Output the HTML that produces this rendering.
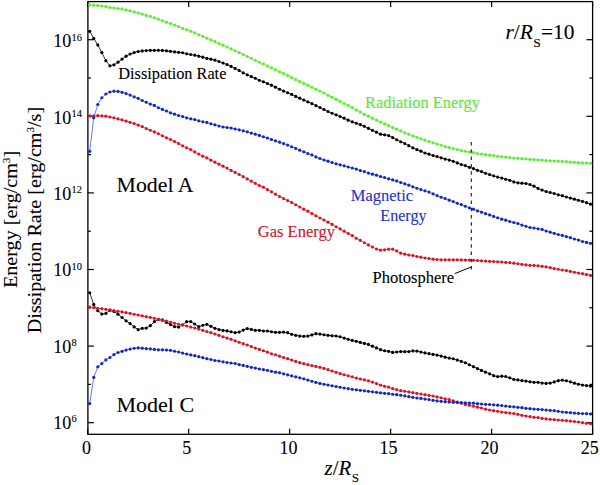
<!DOCTYPE html>
<html><head><meta charset="utf-8"><style>
html,body{margin:0;padding:0;background:#fff;}
svg{display:block;}
text{font-family:'Liberation Serif',serif;stroke:#000;stroke-width:0.1px;}
</style></head><body>
<svg width="600" height="485" viewBox="0 0 600 485">
<rect width="600" height="485" fill="#fff"/>
<rect x="87.9" y="1.6" width="504.7" height="432.7" fill="none" stroke="#000" stroke-width="1.3"/>
<line x1="87.7" y1="422.70" x2="93.9" y2="422.70" stroke="#000" stroke-width="1.2"/>
<line x1="592.6" y1="422.70" x2="586.4" y2="422.70" stroke="#000" stroke-width="1.2"/>
<line x1="87.7" y1="384.40" x2="90.9" y2="384.40" stroke="#000" stroke-width="1.2"/>
<line x1="592.6" y1="384.40" x2="589.4" y2="384.40" stroke="#000" stroke-width="1.2"/>
<line x1="87.7" y1="346.10" x2="93.9" y2="346.10" stroke="#000" stroke-width="1.2"/>
<line x1="592.6" y1="346.10" x2="586.4" y2="346.10" stroke="#000" stroke-width="1.2"/>
<line x1="87.7" y1="307.80" x2="90.9" y2="307.80" stroke="#000" stroke-width="1.2"/>
<line x1="592.6" y1="307.80" x2="589.4" y2="307.80" stroke="#000" stroke-width="1.2"/>
<line x1="87.7" y1="269.50" x2="93.9" y2="269.50" stroke="#000" stroke-width="1.2"/>
<line x1="592.6" y1="269.50" x2="586.4" y2="269.50" stroke="#000" stroke-width="1.2"/>
<line x1="87.7" y1="231.20" x2="90.9" y2="231.20" stroke="#000" stroke-width="1.2"/>
<line x1="592.6" y1="231.20" x2="589.4" y2="231.20" stroke="#000" stroke-width="1.2"/>
<line x1="87.7" y1="192.90" x2="93.9" y2="192.90" stroke="#000" stroke-width="1.2"/>
<line x1="592.6" y1="192.90" x2="586.4" y2="192.90" stroke="#000" stroke-width="1.2"/>
<line x1="87.7" y1="154.60" x2="90.9" y2="154.60" stroke="#000" stroke-width="1.2"/>
<line x1="592.6" y1="154.60" x2="589.4" y2="154.60" stroke="#000" stroke-width="1.2"/>
<line x1="87.7" y1="116.30" x2="93.9" y2="116.30" stroke="#000" stroke-width="1.2"/>
<line x1="592.6" y1="116.30" x2="586.4" y2="116.30" stroke="#000" stroke-width="1.2"/>
<line x1="87.7" y1="78.00" x2="90.9" y2="78.00" stroke="#000" stroke-width="1.2"/>
<line x1="592.6" y1="78.00" x2="589.4" y2="78.00" stroke="#000" stroke-width="1.2"/>
<line x1="87.7" y1="39.70" x2="93.9" y2="39.70" stroke="#000" stroke-width="1.2"/>
<line x1="592.6" y1="39.70" x2="586.4" y2="39.70" stroke="#000" stroke-width="1.2"/>
<line x1="87.70" y1="434.3" x2="87.70" y2="428.8" stroke="#000" stroke-width="1.2"/>
<line x1="87.70" y1="1.4" x2="87.70" y2="6.9" stroke="#000" stroke-width="1.2"/>
<line x1="188.68" y1="434.3" x2="188.68" y2="428.8" stroke="#000" stroke-width="1.2"/>
<line x1="188.68" y1="1.4" x2="188.68" y2="6.9" stroke="#000" stroke-width="1.2"/>
<line x1="289.66" y1="434.3" x2="289.66" y2="428.8" stroke="#000" stroke-width="1.2"/>
<line x1="289.66" y1="1.4" x2="289.66" y2="6.9" stroke="#000" stroke-width="1.2"/>
<line x1="390.64" y1="434.3" x2="390.64" y2="428.8" stroke="#000" stroke-width="1.2"/>
<line x1="390.64" y1="1.4" x2="390.64" y2="6.9" stroke="#000" stroke-width="1.2"/>
<line x1="491.62" y1="434.3" x2="491.62" y2="428.8" stroke="#000" stroke-width="1.2"/>
<line x1="491.62" y1="1.4" x2="491.62" y2="6.9" stroke="#000" stroke-width="1.2"/>
<line x1="592.60" y1="434.3" x2="592.60" y2="428.8" stroke="#000" stroke-width="1.2"/>
<line x1="592.60" y1="1.4" x2="592.60" y2="6.9" stroke="#000" stroke-width="1.2"/>
<text x="71.3" y="429.00" font-size="18" text-anchor="end" >10</text>
<text x="71.5" y="422.25" font-size="10.4" >6</text>
<text x="71.3" y="352.64" font-size="18" text-anchor="end" >10</text>
<text x="71.5" y="345.97" font-size="10.4" >8</text>
<text x="71.3" y="276.28" font-size="18" text-anchor="end" >10</text>
<text x="71.5" y="269.69" font-size="10.4" >10</text>
<text x="71.3" y="199.92" font-size="18" text-anchor="end" >10</text>
<text x="71.5" y="193.41" font-size="10.4" >12</text>
<text x="71.3" y="123.56" font-size="18" text-anchor="end" >10</text>
<text x="71.5" y="117.13" font-size="10.4" >14</text>
<text x="71.3" y="47.20" font-size="18" text-anchor="end" >10</text>
<text x="71.5" y="40.85" font-size="10.4" >16</text>
<text x="86.60" y="453.5" font-size="18" text-anchor="middle" >0</text>
<text x="186.78" y="453.5" font-size="18" text-anchor="middle" >5</text>
<text x="288.41" y="453.5" font-size="18" text-anchor="middle" >10</text>
<text x="388.39" y="453.5" font-size="18" text-anchor="middle" >15</text>
<text x="489.52" y="453.5" font-size="18" text-anchor="middle" >20</text>
<text x="589.70" y="453.5" font-size="18" text-anchor="middle" >25</text>
<text x="118.3" y="79" font-size="16.3" fill="#000" style="stroke:#000" text-anchor="start" >Dissipation Rate</text>
<text x="365" y="107.5" font-size="16.4" fill="#5ee63a" style="stroke:#5ee63a" text-anchor="start" >Radiation Energy</text>
<text x="116.6" y="191.9" font-size="21.8" fill="#000" style="stroke:#000" text-anchor="start" >Model A</text>
<text x="116.5" y="411.5" font-size="22" fill="#000" style="stroke:#000" text-anchor="start" >Model C</text>
<text x="350.8" y="200.8" font-size="16.5" fill="#1f33c4" style="stroke:#1f33c4" text-anchor="start" >Magnetic</text>
<text x="380.3" y="220.8" font-size="16.1" fill="#1f33c4" style="stroke:#1f33c4" text-anchor="start" >Energy</text>
<text x="257.8" y="236.7" font-size="16.5" fill="#c4161f" style="stroke:#c4161f" text-anchor="start" >Gas Energy</text>
<text x="372.6" y="283.1" font-size="16.5" fill="#000" style="stroke:#000" text-anchor="start" >Photosphere</text>
<line x1="454.7" y1="273.6" x2="471.3" y2="267" stroke="#000" stroke-width="1"/>
<text x="505.5" y="38.7" font-size="21.4" ><tspan font-style="italic">r</tspan>/<tspan font-style="italic">R</tspan><tspan font-size="13.5" dy="8.5" dx="0.5">S</tspan><tspan dy="-8.5">=10</tspan></text>
<text x="324.6" y="474.8" font-size="20.8" ><tspan font-style="italic">z</tspan>/<tspan font-style="italic">R</tspan><tspan font-size="13" dy="7.3" dx="0.6">S</tspan></text>
<text transform="translate(16.6,288.0) rotate(-90) scale(1.0056,0.93)" font-size="20" >Energy [erg/cm<tspan font-size="11" dy="-7">3</tspan><tspan dy="7">]</tspan></text>
<text transform="translate(40.9,333.2) rotate(-90) scale(1.006,0.97)" font-size="20" >Dissipation Rate [erg/cm<tspan font-size="11" dy="-7">3</tspan><tspan dy="7">/s]</tspan></text>
<polyline points="89.72,5.00 93.76,5.20 97.80,5.51 101.84,5.99 105.88,6.58 109.92,7.49 113.95,7.99 117.99,8.49 122.03,8.97 126.07,9.97 130.11,10.78 134.15,11.91 138.19,12.92 142.23,14.12 146.27,15.43 150.31,16.45 154.35,17.75 158.39,19.16 162.43,20.77 166.46,22.19 170.50,23.50 174.54,25.02 178.58,26.53 182.62,28.43 186.66,29.75 190.70,31.26 194.74,32.97 198.78,34.79 202.82,36.31 206.86,38.13 210.90,39.96 214.93,41.47 218.97,43.49 223.01,45.21 227.05,47.02 231.09,48.95 235.13,50.86 239.17,52.53 243.21,54.50 247.25,56.52 251.29,58.24 255.33,60.26 259.37,62.27 263.41,63.89 267.44,65.92 271.48,67.79 275.52,69.81 279.56,71.83 283.60,73.55 287.64,75.57 291.68,77.59 295.72,79.61 299.76,81.62 303.80,83.33 307.84,85.22 311.88,87.24 315.91,89.25 319.95,90.98 323.99,93.00 328.03,95.32 332.07,97.23 336.11,99.26 340.15,101.28 344.19,103.49 348.23,105.51 352.27,107.54 356.31,110.07 360.35,112.08 364.39,114.29 368.42,116.16 372.46,118.18 376.50,120.20 380.54,122.02 384.58,123.84 388.62,125.56 392.66,127.57 396.70,129.16 400.74,130.97 404.78,132.79 408.82,134.21 412.86,135.82 416.89,137.23 420.93,138.78 424.97,140.19 429.01,141.50 433.05,142.82 437.09,144.03 441.13,145.24 445.17,146.55 449.21,147.55 453.25,148.56 457.29,149.57 461.33,150.57 465.37,151.27 469.40,152.06 473.44,152.54 477.48,153.55 481.52,154.05 485.56,154.71 489.60,155.21 493.64,155.52 497.68,156.23 501.72,156.73 505.76,157.22 509.80,157.53 513.84,158.03 517.87,158.33 521.91,158.71 525.95,159.01 529.99,159.35 534.03,159.70 538.07,159.90 542.11,160.10 546.15,160.50 550.19,160.80 554.23,161.00 558.27,161.20 562.31,161.40 566.35,161.70 570.38,162.10 574.42,162.30 578.46,162.70 582.50,162.90 586.54,163.00 590.58,163.19" fill="none" stroke="#8ef26a" stroke-width="1.1"/>
<g fill="#62ea3a"><circle cx="89.72" cy="5.00" r="1.6"/><circle cx="93.76" cy="5.20" r="1.6"/><circle cx="97.80" cy="5.51" r="1.6"/><circle cx="101.84" cy="5.99" r="1.6"/><circle cx="105.88" cy="6.58" r="1.6"/><circle cx="109.92" cy="7.49" r="1.6"/><circle cx="113.95" cy="7.99" r="1.6"/><circle cx="117.99" cy="8.49" r="1.6"/><circle cx="122.03" cy="8.97" r="1.6"/><circle cx="126.07" cy="9.97" r="1.6"/><circle cx="130.11" cy="10.78" r="1.6"/><circle cx="134.15" cy="11.91" r="1.6"/><circle cx="138.19" cy="12.92" r="1.6"/><circle cx="142.23" cy="14.12" r="1.6"/><circle cx="146.27" cy="15.43" r="1.6"/><circle cx="150.31" cy="16.45" r="1.6"/><circle cx="154.35" cy="17.75" r="1.6"/><circle cx="158.39" cy="19.16" r="1.6"/><circle cx="162.43" cy="20.77" r="1.6"/><circle cx="166.46" cy="22.19" r="1.6"/><circle cx="170.50" cy="23.50" r="1.6"/><circle cx="174.54" cy="25.02" r="1.6"/><circle cx="178.58" cy="26.53" r="1.6"/><circle cx="182.62" cy="28.43" r="1.6"/><circle cx="186.66" cy="29.75" r="1.6"/><circle cx="190.70" cy="31.26" r="1.6"/><circle cx="194.74" cy="32.97" r="1.6"/><circle cx="198.78" cy="34.79" r="1.6"/><circle cx="202.82" cy="36.31" r="1.6"/><circle cx="206.86" cy="38.13" r="1.6"/><circle cx="210.90" cy="39.96" r="1.6"/><circle cx="214.93" cy="41.47" r="1.6"/><circle cx="218.97" cy="43.49" r="1.6"/><circle cx="223.01" cy="45.21" r="1.6"/><circle cx="227.05" cy="47.02" r="1.6"/><circle cx="231.09" cy="48.95" r="1.6"/><circle cx="235.13" cy="50.86" r="1.6"/><circle cx="239.17" cy="52.53" r="1.6"/><circle cx="243.21" cy="54.50" r="1.6"/><circle cx="247.25" cy="56.52" r="1.6"/><circle cx="251.29" cy="58.24" r="1.6"/><circle cx="255.33" cy="60.26" r="1.6"/><circle cx="259.37" cy="62.27" r="1.6"/><circle cx="263.41" cy="63.89" r="1.6"/><circle cx="267.44" cy="65.92" r="1.6"/><circle cx="271.48" cy="67.79" r="1.6"/><circle cx="275.52" cy="69.81" r="1.6"/><circle cx="279.56" cy="71.83" r="1.6"/><circle cx="283.60" cy="73.55" r="1.6"/><circle cx="287.64" cy="75.57" r="1.6"/><circle cx="291.68" cy="77.59" r="1.6"/><circle cx="295.72" cy="79.61" r="1.6"/><circle cx="299.76" cy="81.62" r="1.6"/><circle cx="303.80" cy="83.33" r="1.6"/><circle cx="307.84" cy="85.22" r="1.6"/><circle cx="311.88" cy="87.24" r="1.6"/><circle cx="315.91" cy="89.25" r="1.6"/><circle cx="319.95" cy="90.98" r="1.6"/><circle cx="323.99" cy="93.00" r="1.6"/><circle cx="328.03" cy="95.32" r="1.6"/><circle cx="332.07" cy="97.23" r="1.6"/><circle cx="336.11" cy="99.26" r="1.6"/><circle cx="340.15" cy="101.28" r="1.6"/><circle cx="344.19" cy="103.49" r="1.6"/><circle cx="348.23" cy="105.51" r="1.6"/><circle cx="352.27" cy="107.54" r="1.6"/><circle cx="356.31" cy="110.07" r="1.6"/><circle cx="360.35" cy="112.08" r="1.6"/><circle cx="364.39" cy="114.29" r="1.6"/><circle cx="368.42" cy="116.16" r="1.6"/><circle cx="372.46" cy="118.18" r="1.6"/><circle cx="376.50" cy="120.20" r="1.6"/><circle cx="380.54" cy="122.02" r="1.6"/><circle cx="384.58" cy="123.84" r="1.6"/><circle cx="388.62" cy="125.56" r="1.6"/><circle cx="392.66" cy="127.57" r="1.6"/><circle cx="396.70" cy="129.16" r="1.6"/><circle cx="400.74" cy="130.97" r="1.6"/><circle cx="404.78" cy="132.79" r="1.6"/><circle cx="408.82" cy="134.21" r="1.6"/><circle cx="412.86" cy="135.82" r="1.6"/><circle cx="416.89" cy="137.23" r="1.6"/><circle cx="420.93" cy="138.78" r="1.6"/><circle cx="424.97" cy="140.19" r="1.6"/><circle cx="429.01" cy="141.50" r="1.6"/><circle cx="433.05" cy="142.82" r="1.6"/><circle cx="437.09" cy="144.03" r="1.6"/><circle cx="441.13" cy="145.24" r="1.6"/><circle cx="445.17" cy="146.55" r="1.6"/><circle cx="449.21" cy="147.55" r="1.6"/><circle cx="453.25" cy="148.56" r="1.6"/><circle cx="457.29" cy="149.57" r="1.6"/><circle cx="461.33" cy="150.57" r="1.6"/><circle cx="465.37" cy="151.27" r="1.6"/><circle cx="469.40" cy="152.06" r="1.6"/><circle cx="473.44" cy="152.54" r="1.6"/><circle cx="477.48" cy="153.55" r="1.6"/><circle cx="481.52" cy="154.05" r="1.6"/><circle cx="485.56" cy="154.71" r="1.6"/><circle cx="489.60" cy="155.21" r="1.6"/><circle cx="493.64" cy="155.52" r="1.6"/><circle cx="497.68" cy="156.23" r="1.6"/><circle cx="501.72" cy="156.73" r="1.6"/><circle cx="505.76" cy="157.22" r="1.6"/><circle cx="509.80" cy="157.53" r="1.6"/><circle cx="513.84" cy="158.03" r="1.6"/><circle cx="517.87" cy="158.33" r="1.6"/><circle cx="521.91" cy="158.71" r="1.6"/><circle cx="525.95" cy="159.01" r="1.6"/><circle cx="529.99" cy="159.35" r="1.6"/><circle cx="534.03" cy="159.70" r="1.6"/><circle cx="538.07" cy="159.90" r="1.6"/><circle cx="542.11" cy="160.10" r="1.6"/><circle cx="546.15" cy="160.50" r="1.6"/><circle cx="550.19" cy="160.80" r="1.6"/><circle cx="554.23" cy="161.00" r="1.6"/><circle cx="558.27" cy="161.20" r="1.6"/><circle cx="562.31" cy="161.40" r="1.6"/><circle cx="566.35" cy="161.70" r="1.6"/><circle cx="570.38" cy="162.10" r="1.6"/><circle cx="574.42" cy="162.30" r="1.6"/><circle cx="578.46" cy="162.70" r="1.6"/><circle cx="582.50" cy="162.90" r="1.6"/><circle cx="586.54" cy="163.00" r="1.6"/><circle cx="590.58" cy="163.19" r="1.6"/></g>
<polyline points="89.72,31.34 93.76,38.40 97.80,44.95 101.84,52.60 105.88,60.63 109.92,65.80 113.95,64.79 117.99,62.22 122.03,59.05 126.07,56.18 130.11,53.99 134.15,52.54 138.19,51.49 142.23,50.90 146.27,50.53 150.31,50.30 154.35,50.30 158.39,50.30 162.43,50.46 166.46,50.78 170.50,51.31 174.54,51.94 178.58,52.34 182.62,52.77 186.66,53.77 190.70,54.48 194.74,55.19 198.78,56.19 202.82,57.20 206.86,58.47 210.90,59.18 214.93,60.18 218.97,61.49 223.01,63.00 227.05,64.52 231.09,66.45 235.13,68.47 239.17,70.48 243.21,72.80 247.25,74.82 251.29,76.54 255.33,78.26 259.37,80.27 263.41,81.76 267.44,83.48 271.48,85.19 275.52,87.21 279.56,89.23 283.60,91.04 287.64,92.73 291.68,94.44 295.72,96.46 299.76,98.18 303.80,100.00 307.84,101.82 311.88,103.53 315.91,105.56 319.95,107.48 323.99,109.50 328.03,111.51 332.07,113.23 336.11,114.84 340.15,116.48 344.19,118.20 348.23,120.21 352.27,121.83 356.31,123.24 360.35,124.55 364.39,126.29 368.42,128.31 372.46,130.28 376.50,132.20 380.54,134.21 384.58,134.81 388.62,135.53 392.66,137.58 396.70,139.75 400.74,141.77 404.78,143.49 408.82,145.71 412.86,147.83 416.89,149.54 420.93,151.17 424.97,152.99 429.01,154.20 433.05,155.51 437.09,156.53 441.13,157.84 445.17,159.05 449.21,160.06 453.25,161.29 457.29,162.92 461.33,164.60 465.37,165.62 469.40,167.34 473.44,168.59 477.48,170.30 481.52,171.62 485.56,173.32 489.60,174.53 493.64,175.84 497.68,177.05 501.72,178.06 505.76,179.27 509.80,180.30 513.84,181.90 517.87,182.85 521.91,183.21 525.95,183.52 529.99,184.50 534.03,186.22 538.07,188.39 542.11,190.10 546.15,191.49 550.19,192.50 554.23,193.51 558.27,194.79 562.31,195.70 566.35,197.01 570.38,198.10 574.42,199.21 578.46,200.32 582.50,201.40 586.54,202.71 590.58,204.16" fill="none" stroke="#000" stroke-width="0.8"/>
<g fill="#000"><circle cx="89.72" cy="31.34" r="1.6"/><circle cx="93.76" cy="38.40" r="1.6"/><circle cx="97.80" cy="44.95" r="1.6"/><circle cx="101.84" cy="52.60" r="1.6"/><circle cx="105.88" cy="60.63" r="1.6"/><circle cx="109.92" cy="65.80" r="1.6"/><circle cx="113.95" cy="64.79" r="1.6"/><circle cx="117.99" cy="62.22" r="1.6"/><circle cx="122.03" cy="59.05" r="1.6"/><circle cx="126.07" cy="56.18" r="1.6"/><circle cx="130.11" cy="53.99" r="1.6"/><circle cx="134.15" cy="52.54" r="1.6"/><circle cx="138.19" cy="51.49" r="1.6"/><circle cx="142.23" cy="50.90" r="1.6"/><circle cx="146.27" cy="50.53" r="1.6"/><circle cx="150.31" cy="50.30" r="1.6"/><circle cx="154.35" cy="50.30" r="1.6"/><circle cx="158.39" cy="50.30" r="1.6"/><circle cx="162.43" cy="50.46" r="1.6"/><circle cx="166.46" cy="50.78" r="1.6"/><circle cx="170.50" cy="51.31" r="1.6"/><circle cx="174.54" cy="51.94" r="1.6"/><circle cx="178.58" cy="52.34" r="1.6"/><circle cx="182.62" cy="52.77" r="1.6"/><circle cx="186.66" cy="53.77" r="1.6"/><circle cx="190.70" cy="54.48" r="1.6"/><circle cx="194.74" cy="55.19" r="1.6"/><circle cx="198.78" cy="56.19" r="1.6"/><circle cx="202.82" cy="57.20" r="1.6"/><circle cx="206.86" cy="58.47" r="1.6"/><circle cx="210.90" cy="59.18" r="1.6"/><circle cx="214.93" cy="60.18" r="1.6"/><circle cx="218.97" cy="61.49" r="1.6"/><circle cx="223.01" cy="63.00" r="1.6"/><circle cx="227.05" cy="64.52" r="1.6"/><circle cx="231.09" cy="66.45" r="1.6"/><circle cx="235.13" cy="68.47" r="1.6"/><circle cx="239.17" cy="70.48" r="1.6"/><circle cx="243.21" cy="72.80" r="1.6"/><circle cx="247.25" cy="74.82" r="1.6"/><circle cx="251.29" cy="76.54" r="1.6"/><circle cx="255.33" cy="78.26" r="1.6"/><circle cx="259.37" cy="80.27" r="1.6"/><circle cx="263.41" cy="81.76" r="1.6"/><circle cx="267.44" cy="83.48" r="1.6"/><circle cx="271.48" cy="85.19" r="1.6"/><circle cx="275.52" cy="87.21" r="1.6"/><circle cx="279.56" cy="89.23" r="1.6"/><circle cx="283.60" cy="91.04" r="1.6"/><circle cx="287.64" cy="92.73" r="1.6"/><circle cx="291.68" cy="94.44" r="1.6"/><circle cx="295.72" cy="96.46" r="1.6"/><circle cx="299.76" cy="98.18" r="1.6"/><circle cx="303.80" cy="100.00" r="1.6"/><circle cx="307.84" cy="101.82" r="1.6"/><circle cx="311.88" cy="103.53" r="1.6"/><circle cx="315.91" cy="105.56" r="1.6"/><circle cx="319.95" cy="107.48" r="1.6"/><circle cx="323.99" cy="109.50" r="1.6"/><circle cx="328.03" cy="111.51" r="1.6"/><circle cx="332.07" cy="113.23" r="1.6"/><circle cx="336.11" cy="114.84" r="1.6"/><circle cx="340.15" cy="116.48" r="1.6"/><circle cx="344.19" cy="118.20" r="1.6"/><circle cx="348.23" cy="120.21" r="1.6"/><circle cx="352.27" cy="121.83" r="1.6"/><circle cx="356.31" cy="123.24" r="1.6"/><circle cx="360.35" cy="124.55" r="1.6"/><circle cx="364.39" cy="126.29" r="1.6"/><circle cx="368.42" cy="128.31" r="1.6"/><circle cx="372.46" cy="130.28" r="1.6"/><circle cx="376.50" cy="132.20" r="1.6"/><circle cx="380.54" cy="134.21" r="1.6"/><circle cx="384.58" cy="134.81" r="1.6"/><circle cx="388.62" cy="135.53" r="1.6"/><circle cx="392.66" cy="137.58" r="1.6"/><circle cx="396.70" cy="139.75" r="1.6"/><circle cx="400.74" cy="141.77" r="1.6"/><circle cx="404.78" cy="143.49" r="1.6"/><circle cx="408.82" cy="145.71" r="1.6"/><circle cx="412.86" cy="147.83" r="1.6"/><circle cx="416.89" cy="149.54" r="1.6"/><circle cx="420.93" cy="151.17" r="1.6"/><circle cx="424.97" cy="152.99" r="1.6"/><circle cx="429.01" cy="154.20" r="1.6"/><circle cx="433.05" cy="155.51" r="1.6"/><circle cx="437.09" cy="156.53" r="1.6"/><circle cx="441.13" cy="157.84" r="1.6"/><circle cx="445.17" cy="159.05" r="1.6"/><circle cx="449.21" cy="160.06" r="1.6"/><circle cx="453.25" cy="161.29" r="1.6"/><circle cx="457.29" cy="162.92" r="1.6"/><circle cx="461.33" cy="164.60" r="1.6"/><circle cx="465.37" cy="165.62" r="1.6"/><circle cx="469.40" cy="167.34" r="1.6"/><circle cx="473.44" cy="168.59" r="1.6"/><circle cx="477.48" cy="170.30" r="1.6"/><circle cx="481.52" cy="171.62" r="1.6"/><circle cx="485.56" cy="173.32" r="1.6"/><circle cx="489.60" cy="174.53" r="1.6"/><circle cx="493.64" cy="175.84" r="1.6"/><circle cx="497.68" cy="177.05" r="1.6"/><circle cx="501.72" cy="178.06" r="1.6"/><circle cx="505.76" cy="179.27" r="1.6"/><circle cx="509.80" cy="180.30" r="1.6"/><circle cx="513.84" cy="181.90" r="1.6"/><circle cx="517.87" cy="182.85" r="1.6"/><circle cx="521.91" cy="183.21" r="1.6"/><circle cx="525.95" cy="183.52" r="1.6"/><circle cx="529.99" cy="184.50" r="1.6"/><circle cx="534.03" cy="186.22" r="1.6"/><circle cx="538.07" cy="188.39" r="1.6"/><circle cx="542.11" cy="190.10" r="1.6"/><circle cx="546.15" cy="191.49" r="1.6"/><circle cx="550.19" cy="192.50" r="1.6"/><circle cx="554.23" cy="193.51" r="1.6"/><circle cx="558.27" cy="194.79" r="1.6"/><circle cx="562.31" cy="195.70" r="1.6"/><circle cx="566.35" cy="197.01" r="1.6"/><circle cx="570.38" cy="198.10" r="1.6"/><circle cx="574.42" cy="199.21" r="1.6"/><circle cx="578.46" cy="200.32" r="1.6"/><circle cx="582.50" cy="201.40" r="1.6"/><circle cx="586.54" cy="202.71" r="1.6"/><circle cx="590.58" cy="204.16" r="1.6"/></g>
<polyline points="89.72,115.90 93.76,115.90 97.80,115.70 101.84,115.90 105.88,116.20 109.92,116.98 113.95,117.87 117.99,118.92 122.03,119.90 126.07,121.07 130.11,122.34 134.15,123.62 138.19,125.04 142.23,126.61 146.27,128.53 150.31,130.25 154.35,131.93 158.39,133.75 162.43,135.76 166.46,137.78 170.50,139.50 174.54,141.52 178.58,143.54 182.62,145.86 186.66,147.87 190.70,149.60 194.74,151.93 198.78,154.09 202.82,156.21 206.86,157.93 210.90,160.14 214.93,162.17 218.97,164.19 223.01,166.21 227.05,168.12 231.09,170.44 235.13,172.42 239.17,174.48 243.21,176.71 247.25,178.93 251.29,181.15 255.33,183.37 259.37,185.58 263.41,187.15 267.44,189.64 271.48,191.79 275.52,194.21 279.56,196.53 283.60,198.55 287.64,200.57 291.68,202.49 295.72,204.75 299.76,206.98 303.80,209.20 307.84,211.22 311.88,213.54 315.91,215.75 319.95,217.98 323.99,220.00 328.03,222.22 332.07,224.43 336.11,226.75 340.15,228.97 344.19,231.19 348.23,233.52 352.27,235.54 356.31,238.26 360.35,240.42 364.39,242.74 368.42,244.96 372.46,246.98 376.50,249.00 380.54,250.20 384.58,249.79 388.62,249.20 392.66,249.20 396.70,250.95 400.74,253.18 404.78,254.19 408.82,255.00 412.86,255.51 416.89,256.52 420.93,257.19 424.97,258.00 429.01,258.50 433.05,259.21 437.09,259.51 441.13,259.80 445.17,259.80 449.21,259.80 453.25,259.80 457.29,259.80 461.33,259.96 465.37,260.10 469.40,260.10 473.44,260.25 477.48,260.50 481.52,260.79 485.56,261.11 489.60,261.31 493.64,261.50 497.68,261.80 501.72,261.99 505.76,262.40 509.80,262.69 513.84,263.19 517.87,263.76 521.91,264.32 525.95,264.91 529.99,265.31 534.03,265.41 538.07,265.81 542.11,266.29 546.15,266.91 550.19,267.72 554.23,268.62 558.27,269.25 562.31,270.02 566.35,270.61 570.38,271.44 574.42,272.23 578.46,273.09 582.50,273.72 586.54,274.53 590.58,275.40" fill="none" stroke="#ee3a44" stroke-width="0.9"/>
<g fill="#cf1a26"><circle cx="89.72" cy="115.90" r="1.6"/><circle cx="93.76" cy="115.90" r="1.6"/><circle cx="97.80" cy="115.70" r="1.6"/><circle cx="101.84" cy="115.90" r="1.6"/><circle cx="105.88" cy="116.20" r="1.6"/><circle cx="109.92" cy="116.98" r="1.6"/><circle cx="113.95" cy="117.87" r="1.6"/><circle cx="117.99" cy="118.92" r="1.6"/><circle cx="122.03" cy="119.90" r="1.6"/><circle cx="126.07" cy="121.07" r="1.6"/><circle cx="130.11" cy="122.34" r="1.6"/><circle cx="134.15" cy="123.62" r="1.6"/><circle cx="138.19" cy="125.04" r="1.6"/><circle cx="142.23" cy="126.61" r="1.6"/><circle cx="146.27" cy="128.53" r="1.6"/><circle cx="150.31" cy="130.25" r="1.6"/><circle cx="154.35" cy="131.93" r="1.6"/><circle cx="158.39" cy="133.75" r="1.6"/><circle cx="162.43" cy="135.76" r="1.6"/><circle cx="166.46" cy="137.78" r="1.6"/><circle cx="170.50" cy="139.50" r="1.6"/><circle cx="174.54" cy="141.52" r="1.6"/><circle cx="178.58" cy="143.54" r="1.6"/><circle cx="182.62" cy="145.86" r="1.6"/><circle cx="186.66" cy="147.87" r="1.6"/><circle cx="190.70" cy="149.60" r="1.6"/><circle cx="194.74" cy="151.93" r="1.6"/><circle cx="198.78" cy="154.09" r="1.6"/><circle cx="202.82" cy="156.21" r="1.6"/><circle cx="206.86" cy="157.93" r="1.6"/><circle cx="210.90" cy="160.14" r="1.6"/><circle cx="214.93" cy="162.17" r="1.6"/><circle cx="218.97" cy="164.19" r="1.6"/><circle cx="223.01" cy="166.21" r="1.6"/><circle cx="227.05" cy="168.12" r="1.6"/><circle cx="231.09" cy="170.44" r="1.6"/><circle cx="235.13" cy="172.42" r="1.6"/><circle cx="239.17" cy="174.48" r="1.6"/><circle cx="243.21" cy="176.71" r="1.6"/><circle cx="247.25" cy="178.93" r="1.6"/><circle cx="251.29" cy="181.15" r="1.6"/><circle cx="255.33" cy="183.37" r="1.6"/><circle cx="259.37" cy="185.58" r="1.6"/><circle cx="263.41" cy="187.15" r="1.6"/><circle cx="267.44" cy="189.64" r="1.6"/><circle cx="271.48" cy="191.79" r="1.6"/><circle cx="275.52" cy="194.21" r="1.6"/><circle cx="279.56" cy="196.53" r="1.6"/><circle cx="283.60" cy="198.55" r="1.6"/><circle cx="287.64" cy="200.57" r="1.6"/><circle cx="291.68" cy="202.49" r="1.6"/><circle cx="295.72" cy="204.75" r="1.6"/><circle cx="299.76" cy="206.98" r="1.6"/><circle cx="303.80" cy="209.20" r="1.6"/><circle cx="307.84" cy="211.22" r="1.6"/><circle cx="311.88" cy="213.54" r="1.6"/><circle cx="315.91" cy="215.75" r="1.6"/><circle cx="319.95" cy="217.98" r="1.6"/><circle cx="323.99" cy="220.00" r="1.6"/><circle cx="328.03" cy="222.22" r="1.6"/><circle cx="332.07" cy="224.43" r="1.6"/><circle cx="336.11" cy="226.75" r="1.6"/><circle cx="340.15" cy="228.97" r="1.6"/><circle cx="344.19" cy="231.19" r="1.6"/><circle cx="348.23" cy="233.52" r="1.6"/><circle cx="352.27" cy="235.54" r="1.6"/><circle cx="356.31" cy="238.26" r="1.6"/><circle cx="360.35" cy="240.42" r="1.6"/><circle cx="364.39" cy="242.74" r="1.6"/><circle cx="368.42" cy="244.96" r="1.6"/><circle cx="372.46" cy="246.98" r="1.6"/><circle cx="376.50" cy="249.00" r="1.6"/><circle cx="380.54" cy="250.20" r="1.6"/><circle cx="384.58" cy="249.79" r="1.6"/><circle cx="388.62" cy="249.20" r="1.6"/><circle cx="392.66" cy="249.20" r="1.6"/><circle cx="396.70" cy="250.95" r="1.6"/><circle cx="400.74" cy="253.18" r="1.6"/><circle cx="404.78" cy="254.19" r="1.6"/><circle cx="408.82" cy="255.00" r="1.6"/><circle cx="412.86" cy="255.51" r="1.6"/><circle cx="416.89" cy="256.52" r="1.6"/><circle cx="420.93" cy="257.19" r="1.6"/><circle cx="424.97" cy="258.00" r="1.6"/><circle cx="429.01" cy="258.50" r="1.6"/><circle cx="433.05" cy="259.21" r="1.6"/><circle cx="437.09" cy="259.51" r="1.6"/><circle cx="441.13" cy="259.80" r="1.6"/><circle cx="445.17" cy="259.80" r="1.6"/><circle cx="449.21" cy="259.80" r="1.6"/><circle cx="453.25" cy="259.80" r="1.6"/><circle cx="457.29" cy="259.80" r="1.6"/><circle cx="461.33" cy="259.96" r="1.6"/><circle cx="465.37" cy="260.10" r="1.6"/><circle cx="469.40" cy="260.10" r="1.6"/><circle cx="473.44" cy="260.25" r="1.6"/><circle cx="477.48" cy="260.50" r="1.6"/><circle cx="481.52" cy="260.79" r="1.6"/><circle cx="485.56" cy="261.11" r="1.6"/><circle cx="489.60" cy="261.31" r="1.6"/><circle cx="493.64" cy="261.50" r="1.6"/><circle cx="497.68" cy="261.80" r="1.6"/><circle cx="501.72" cy="261.99" r="1.6"/><circle cx="505.76" cy="262.40" r="1.6"/><circle cx="509.80" cy="262.69" r="1.6"/><circle cx="513.84" cy="263.19" r="1.6"/><circle cx="517.87" cy="263.76" r="1.6"/><circle cx="521.91" cy="264.32" r="1.6"/><circle cx="525.95" cy="264.91" r="1.6"/><circle cx="529.99" cy="265.31" r="1.6"/><circle cx="534.03" cy="265.41" r="1.6"/><circle cx="538.07" cy="265.81" r="1.6"/><circle cx="542.11" cy="266.29" r="1.6"/><circle cx="546.15" cy="266.91" r="1.6"/><circle cx="550.19" cy="267.72" r="1.6"/><circle cx="554.23" cy="268.62" r="1.6"/><circle cx="558.27" cy="269.25" r="1.6"/><circle cx="562.31" cy="270.02" r="1.6"/><circle cx="566.35" cy="270.61" r="1.6"/><circle cx="570.38" cy="271.44" r="1.6"/><circle cx="574.42" cy="272.23" r="1.6"/><circle cx="578.46" cy="273.09" r="1.6"/><circle cx="582.50" cy="273.72" r="1.6"/><circle cx="586.54" cy="274.53" r="1.6"/><circle cx="590.58" cy="275.40" r="1.6"/></g>
<polyline points="89.72,151.37 93.76,117.67 97.80,104.48 101.84,97.76 105.88,94.02 109.92,92.02 113.95,91.20 117.99,91.47 122.03,92.30 126.07,93.55 130.11,95.10 134.15,96.78 138.19,98.29 142.23,100.51 146.27,102.23 150.31,104.04 154.35,105.43 158.39,107.74 162.43,109.47 166.46,110.99 170.50,112.80 174.54,114.21 178.58,115.52 182.62,116.53 186.66,117.85 190.70,118.84 194.74,119.56 198.78,120.85 202.82,121.76 206.86,122.47 210.90,123.77 214.93,124.78 218.97,125.99 223.01,127.00 227.05,127.51 231.09,128.02 235.13,128.98 239.17,129.79 243.21,130.80 247.25,131.81 251.29,133.03 255.33,134.21 259.37,135.46 263.41,136.77 267.44,137.98 271.48,139.49 275.52,140.81 279.56,142.22 283.60,143.54 287.64,145.06 291.68,146.75 295.72,148.47 299.76,150.18 303.80,151.80 307.84,153.51 311.88,154.95 315.91,156.96 319.95,158.48 323.99,160.00 328.03,161.21 332.07,162.52 336.11,163.83 340.15,164.79 344.19,165.80 348.23,167.01 352.27,168.02 356.31,169.03 360.35,170.54 364.39,171.56 368.42,173.07 372.46,174.19 376.50,175.20 380.54,176.51 384.58,177.52 388.62,178.84 392.66,179.96 396.70,180.97 400.74,182.48 404.78,183.79 408.82,185.21 412.86,186.82 416.89,188.23 420.93,189.54 424.97,190.85 429.01,192.10 433.05,193.82 437.09,195.54 441.13,197.25 445.17,198.49 449.21,200.20 453.25,201.52 457.29,203.23 461.33,204.55 465.37,206.27 469.40,207.87 473.44,209.18 477.48,210.79 481.52,212.21 485.56,213.72 489.60,214.93 493.64,216.44 497.68,217.76 501.72,219.18 505.76,220.19 509.80,221.50 513.84,222.51 517.87,223.52 521.91,225.04 525.95,226.25 529.99,227.50 534.03,228.00 538.07,228.81 542.11,229.43 546.15,231.02 550.19,232.13 554.23,233.31 558.27,234.52 562.31,235.43 566.35,236.61 570.38,237.72 574.42,239.01 578.46,240.09 582.50,241.50 586.54,242.41 590.58,243.30" fill="none" stroke="#3c5af0" stroke-width="0.8"/>
<g fill="#1428b8"><circle cx="89.72" cy="151.37" r="1.6"/><circle cx="93.76" cy="117.67" r="1.6"/><circle cx="97.80" cy="104.48" r="1.6"/><circle cx="101.84" cy="97.76" r="1.6"/><circle cx="105.88" cy="94.02" r="1.6"/><circle cx="109.92" cy="92.02" r="1.6"/><circle cx="113.95" cy="91.20" r="1.6"/><circle cx="117.99" cy="91.47" r="1.6"/><circle cx="122.03" cy="92.30" r="1.6"/><circle cx="126.07" cy="93.55" r="1.6"/><circle cx="130.11" cy="95.10" r="1.6"/><circle cx="134.15" cy="96.78" r="1.6"/><circle cx="138.19" cy="98.29" r="1.6"/><circle cx="142.23" cy="100.51" r="1.6"/><circle cx="146.27" cy="102.23" r="1.6"/><circle cx="150.31" cy="104.04" r="1.6"/><circle cx="154.35" cy="105.43" r="1.6"/><circle cx="158.39" cy="107.74" r="1.6"/><circle cx="162.43" cy="109.47" r="1.6"/><circle cx="166.46" cy="110.99" r="1.6"/><circle cx="170.50" cy="112.80" r="1.6"/><circle cx="174.54" cy="114.21" r="1.6"/><circle cx="178.58" cy="115.52" r="1.6"/><circle cx="182.62" cy="116.53" r="1.6"/><circle cx="186.66" cy="117.85" r="1.6"/><circle cx="190.70" cy="118.84" r="1.6"/><circle cx="194.74" cy="119.56" r="1.6"/><circle cx="198.78" cy="120.85" r="1.6"/><circle cx="202.82" cy="121.76" r="1.6"/><circle cx="206.86" cy="122.47" r="1.6"/><circle cx="210.90" cy="123.77" r="1.6"/><circle cx="214.93" cy="124.78" r="1.6"/><circle cx="218.97" cy="125.99" r="1.6"/><circle cx="223.01" cy="127.00" r="1.6"/><circle cx="227.05" cy="127.51" r="1.6"/><circle cx="231.09" cy="128.02" r="1.6"/><circle cx="235.13" cy="128.98" r="1.6"/><circle cx="239.17" cy="129.79" r="1.6"/><circle cx="243.21" cy="130.80" r="1.6"/><circle cx="247.25" cy="131.81" r="1.6"/><circle cx="251.29" cy="133.03" r="1.6"/><circle cx="255.33" cy="134.21" r="1.6"/><circle cx="259.37" cy="135.46" r="1.6"/><circle cx="263.41" cy="136.77" r="1.6"/><circle cx="267.44" cy="137.98" r="1.6"/><circle cx="271.48" cy="139.49" r="1.6"/><circle cx="275.52" cy="140.81" r="1.6"/><circle cx="279.56" cy="142.22" r="1.6"/><circle cx="283.60" cy="143.54" r="1.6"/><circle cx="287.64" cy="145.06" r="1.6"/><circle cx="291.68" cy="146.75" r="1.6"/><circle cx="295.72" cy="148.47" r="1.6"/><circle cx="299.76" cy="150.18" r="1.6"/><circle cx="303.80" cy="151.80" r="1.6"/><circle cx="307.84" cy="153.51" r="1.6"/><circle cx="311.88" cy="154.95" r="1.6"/><circle cx="315.91" cy="156.96" r="1.6"/><circle cx="319.95" cy="158.48" r="1.6"/><circle cx="323.99" cy="160.00" r="1.6"/><circle cx="328.03" cy="161.21" r="1.6"/><circle cx="332.07" cy="162.52" r="1.6"/><circle cx="336.11" cy="163.83" r="1.6"/><circle cx="340.15" cy="164.79" r="1.6"/><circle cx="344.19" cy="165.80" r="1.6"/><circle cx="348.23" cy="167.01" r="1.6"/><circle cx="352.27" cy="168.02" r="1.6"/><circle cx="356.31" cy="169.03" r="1.6"/><circle cx="360.35" cy="170.54" r="1.6"/><circle cx="364.39" cy="171.56" r="1.6"/><circle cx="368.42" cy="173.07" r="1.6"/><circle cx="372.46" cy="174.19" r="1.6"/><circle cx="376.50" cy="175.20" r="1.6"/><circle cx="380.54" cy="176.51" r="1.6"/><circle cx="384.58" cy="177.52" r="1.6"/><circle cx="388.62" cy="178.84" r="1.6"/><circle cx="392.66" cy="179.96" r="1.6"/><circle cx="396.70" cy="180.97" r="1.6"/><circle cx="400.74" cy="182.48" r="1.6"/><circle cx="404.78" cy="183.79" r="1.6"/><circle cx="408.82" cy="185.21" r="1.6"/><circle cx="412.86" cy="186.82" r="1.6"/><circle cx="416.89" cy="188.23" r="1.6"/><circle cx="420.93" cy="189.54" r="1.6"/><circle cx="424.97" cy="190.85" r="1.6"/><circle cx="429.01" cy="192.10" r="1.6"/><circle cx="433.05" cy="193.82" r="1.6"/><circle cx="437.09" cy="195.54" r="1.6"/><circle cx="441.13" cy="197.25" r="1.6"/><circle cx="445.17" cy="198.49" r="1.6"/><circle cx="449.21" cy="200.20" r="1.6"/><circle cx="453.25" cy="201.52" r="1.6"/><circle cx="457.29" cy="203.23" r="1.6"/><circle cx="461.33" cy="204.55" r="1.6"/><circle cx="465.37" cy="206.27" r="1.6"/><circle cx="469.40" cy="207.87" r="1.6"/><circle cx="473.44" cy="209.18" r="1.6"/><circle cx="477.48" cy="210.79" r="1.6"/><circle cx="481.52" cy="212.21" r="1.6"/><circle cx="485.56" cy="213.72" r="1.6"/><circle cx="489.60" cy="214.93" r="1.6"/><circle cx="493.64" cy="216.44" r="1.6"/><circle cx="497.68" cy="217.76" r="1.6"/><circle cx="501.72" cy="219.18" r="1.6"/><circle cx="505.76" cy="220.19" r="1.6"/><circle cx="509.80" cy="221.50" r="1.6"/><circle cx="513.84" cy="222.51" r="1.6"/><circle cx="517.87" cy="223.52" r="1.6"/><circle cx="521.91" cy="225.04" r="1.6"/><circle cx="525.95" cy="226.25" r="1.6"/><circle cx="529.99" cy="227.50" r="1.6"/><circle cx="534.03" cy="228.00" r="1.6"/><circle cx="538.07" cy="228.81" r="1.6"/><circle cx="542.11" cy="229.43" r="1.6"/><circle cx="546.15" cy="231.02" r="1.6"/><circle cx="550.19" cy="232.13" r="1.6"/><circle cx="554.23" cy="233.31" r="1.6"/><circle cx="558.27" cy="234.52" r="1.6"/><circle cx="562.31" cy="235.43" r="1.6"/><circle cx="566.35" cy="236.61" r="1.6"/><circle cx="570.38" cy="237.72" r="1.6"/><circle cx="574.42" cy="239.01" r="1.6"/><circle cx="578.46" cy="240.09" r="1.6"/><circle cx="582.50" cy="241.50" r="1.6"/><circle cx="586.54" cy="242.41" r="1.6"/><circle cx="590.58" cy="243.30" r="1.6"/></g>
<polyline points="89.72,292.77 93.76,304.42 97.80,310.71 101.84,314.10 105.88,313.41 109.92,310.30 113.95,311.42 117.99,314.17 122.03,317.51 126.07,320.83 130.11,323.56 134.15,326.89 138.19,329.70 142.23,328.31 146.27,328.10 150.31,325.69 154.35,321.67 158.39,319.40 162.43,319.93 166.46,322.44 170.50,324.60 174.54,326.67 178.58,327.10 182.62,324.75 186.66,321.70 190.70,321.60 194.74,324.02 198.78,326.70 202.82,325.27 206.86,324.30 210.90,326.30 214.93,328.31 218.97,329.62 223.01,330.42 227.05,330.92 231.09,331.75 235.13,332.70 239.17,332.03 243.21,330.04 247.25,328.60 251.29,329.40 255.33,330.30 259.37,330.30 263.41,331.00 267.44,331.00 271.48,331.73 275.52,332.30 279.56,332.30 283.60,332.10 287.64,332.69 291.68,334.29 295.72,335.30 299.76,336.10 303.80,336.30 307.84,336.09 311.88,334.94 315.91,333.70 319.95,334.03 323.99,334.75 328.03,335.34 332.07,335.73 336.11,336.01 340.15,336.74 344.19,338.06 348.23,339.37 352.27,340.47 356.31,341.37 360.35,342.39 364.39,343.39 368.42,344.44 372.46,346.20 376.50,347.92 380.54,349.65 384.58,350.73 388.62,351.30 392.66,352.40 396.70,352.00 400.74,351.60 404.78,351.70 408.82,351.59 412.86,350.90 416.89,351.12 420.93,352.05 424.97,352.89 429.01,353.70 433.05,354.41 437.09,355.12 441.13,356.03 445.17,357.14 449.21,358.04 453.25,358.76 457.29,360.09 461.33,361.40 465.37,362.73 469.40,364.75 473.44,366.67 477.48,368.58 481.52,370.40 485.56,372.18 489.60,373.80 493.64,375.71 497.68,376.60 501.72,376.20 505.76,376.52 509.80,377.87 513.84,379.44 517.87,379.94 521.91,380.54 525.95,381.06 529.99,381.86 534.03,382.30 538.07,382.30 542.11,383.12 546.15,383.40 550.19,383.08 554.23,381.93 558.27,380.65 562.31,380.10 566.35,380.75 570.38,381.85 574.42,383.17 578.46,384.26 582.50,385.03 586.54,385.53 590.58,386.08" fill="none" stroke="#000" stroke-width="0.8"/>
<g fill="#000"><circle cx="89.72" cy="292.77" r="1.6"/><circle cx="93.76" cy="304.42" r="1.6"/><circle cx="97.80" cy="310.71" r="1.6"/><circle cx="101.84" cy="314.10" r="1.6"/><circle cx="105.88" cy="313.41" r="1.6"/><circle cx="109.92" cy="310.30" r="1.6"/><circle cx="113.95" cy="311.42" r="1.6"/><circle cx="117.99" cy="314.17" r="1.6"/><circle cx="122.03" cy="317.51" r="1.6"/><circle cx="126.07" cy="320.83" r="1.6"/><circle cx="130.11" cy="323.56" r="1.6"/><circle cx="134.15" cy="326.89" r="1.6"/><circle cx="138.19" cy="329.70" r="1.6"/><circle cx="142.23" cy="328.31" r="1.6"/><circle cx="146.27" cy="328.10" r="1.6"/><circle cx="150.31" cy="325.69" r="1.6"/><circle cx="154.35" cy="321.67" r="1.6"/><circle cx="158.39" cy="319.40" r="1.6"/><circle cx="162.43" cy="319.93" r="1.6"/><circle cx="166.46" cy="322.44" r="1.6"/><circle cx="170.50" cy="324.60" r="1.6"/><circle cx="174.54" cy="326.67" r="1.6"/><circle cx="178.58" cy="327.10" r="1.6"/><circle cx="182.62" cy="324.75" r="1.6"/><circle cx="186.66" cy="321.70" r="1.6"/><circle cx="190.70" cy="321.60" r="1.6"/><circle cx="194.74" cy="324.02" r="1.6"/><circle cx="198.78" cy="326.70" r="1.6"/><circle cx="202.82" cy="325.27" r="1.6"/><circle cx="206.86" cy="324.30" r="1.6"/><circle cx="210.90" cy="326.30" r="1.6"/><circle cx="214.93" cy="328.31" r="1.6"/><circle cx="218.97" cy="329.62" r="1.6"/><circle cx="223.01" cy="330.42" r="1.6"/><circle cx="227.05" cy="330.92" r="1.6"/><circle cx="231.09" cy="331.75" r="1.6"/><circle cx="235.13" cy="332.70" r="1.6"/><circle cx="239.17" cy="332.03" r="1.6"/><circle cx="243.21" cy="330.04" r="1.6"/><circle cx="247.25" cy="328.60" r="1.6"/><circle cx="251.29" cy="329.40" r="1.6"/><circle cx="255.33" cy="330.30" r="1.6"/><circle cx="259.37" cy="330.30" r="1.6"/><circle cx="263.41" cy="331.00" r="1.6"/><circle cx="267.44" cy="331.00" r="1.6"/><circle cx="271.48" cy="331.73" r="1.6"/><circle cx="275.52" cy="332.30" r="1.6"/><circle cx="279.56" cy="332.30" r="1.6"/><circle cx="283.60" cy="332.10" r="1.6"/><circle cx="287.64" cy="332.69" r="1.6"/><circle cx="291.68" cy="334.29" r="1.6"/><circle cx="295.72" cy="335.30" r="1.6"/><circle cx="299.76" cy="336.10" r="1.6"/><circle cx="303.80" cy="336.30" r="1.6"/><circle cx="307.84" cy="336.09" r="1.6"/><circle cx="311.88" cy="334.94" r="1.6"/><circle cx="315.91" cy="333.70" r="1.6"/><circle cx="319.95" cy="334.03" r="1.6"/><circle cx="323.99" cy="334.75" r="1.6"/><circle cx="328.03" cy="335.34" r="1.6"/><circle cx="332.07" cy="335.73" r="1.6"/><circle cx="336.11" cy="336.01" r="1.6"/><circle cx="340.15" cy="336.74" r="1.6"/><circle cx="344.19" cy="338.06" r="1.6"/><circle cx="348.23" cy="339.37" r="1.6"/><circle cx="352.27" cy="340.47" r="1.6"/><circle cx="356.31" cy="341.37" r="1.6"/><circle cx="360.35" cy="342.39" r="1.6"/><circle cx="364.39" cy="343.39" r="1.6"/><circle cx="368.42" cy="344.44" r="1.6"/><circle cx="372.46" cy="346.20" r="1.6"/><circle cx="376.50" cy="347.92" r="1.6"/><circle cx="380.54" cy="349.65" r="1.6"/><circle cx="384.58" cy="350.73" r="1.6"/><circle cx="388.62" cy="351.30" r="1.6"/><circle cx="392.66" cy="352.40" r="1.6"/><circle cx="396.70" cy="352.00" r="1.6"/><circle cx="400.74" cy="351.60" r="1.6"/><circle cx="404.78" cy="351.70" r="1.6"/><circle cx="408.82" cy="351.59" r="1.6"/><circle cx="412.86" cy="350.90" r="1.6"/><circle cx="416.89" cy="351.12" r="1.6"/><circle cx="420.93" cy="352.05" r="1.6"/><circle cx="424.97" cy="352.89" r="1.6"/><circle cx="429.01" cy="353.70" r="1.6"/><circle cx="433.05" cy="354.41" r="1.6"/><circle cx="437.09" cy="355.12" r="1.6"/><circle cx="441.13" cy="356.03" r="1.6"/><circle cx="445.17" cy="357.14" r="1.6"/><circle cx="449.21" cy="358.04" r="1.6"/><circle cx="453.25" cy="358.76" r="1.6"/><circle cx="457.29" cy="360.09" r="1.6"/><circle cx="461.33" cy="361.40" r="1.6"/><circle cx="465.37" cy="362.73" r="1.6"/><circle cx="469.40" cy="364.75" r="1.6"/><circle cx="473.44" cy="366.67" r="1.6"/><circle cx="477.48" cy="368.58" r="1.6"/><circle cx="481.52" cy="370.40" r="1.6"/><circle cx="485.56" cy="372.18" r="1.6"/><circle cx="489.60" cy="373.80" r="1.6"/><circle cx="493.64" cy="375.71" r="1.6"/><circle cx="497.68" cy="376.60" r="1.6"/><circle cx="501.72" cy="376.20" r="1.6"/><circle cx="505.76" cy="376.52" r="1.6"/><circle cx="509.80" cy="377.87" r="1.6"/><circle cx="513.84" cy="379.44" r="1.6"/><circle cx="517.87" cy="379.94" r="1.6"/><circle cx="521.91" cy="380.54" r="1.6"/><circle cx="525.95" cy="381.06" r="1.6"/><circle cx="529.99" cy="381.86" r="1.6"/><circle cx="534.03" cy="382.30" r="1.6"/><circle cx="538.07" cy="382.30" r="1.6"/><circle cx="542.11" cy="383.12" r="1.6"/><circle cx="546.15" cy="383.40" r="1.6"/><circle cx="550.19" cy="383.08" r="1.6"/><circle cx="554.23" cy="381.93" r="1.6"/><circle cx="558.27" cy="380.65" r="1.6"/><circle cx="562.31" cy="380.10" r="1.6"/><circle cx="566.35" cy="380.75" r="1.6"/><circle cx="570.38" cy="381.85" r="1.6"/><circle cx="574.42" cy="383.17" r="1.6"/><circle cx="578.46" cy="384.26" r="1.6"/><circle cx="582.50" cy="385.03" r="1.6"/><circle cx="586.54" cy="385.53" r="1.6"/><circle cx="590.58" cy="386.08" r="1.6"/></g>
<polyline points="89.72,307.04 93.76,307.71 97.80,308.31 101.84,308.69 105.88,309.30 109.92,309.80 113.95,310.61 117.99,311.32 122.03,311.92 126.07,312.66 130.11,313.36 134.15,314.27 138.19,314.98 142.23,315.88 146.27,316.69 150.31,317.40 154.35,318.31 158.39,319.42 162.43,320.32 166.46,321.01 170.50,322.25 174.54,323.26 178.58,324.27 182.62,325.08 186.66,325.99 190.70,327.10 194.74,328.01 198.78,329.12 202.82,330.44 206.86,331.59 210.90,332.70 214.93,334.01 218.97,335.32 223.01,336.74 227.05,338.05 231.09,339.36 235.13,340.78 239.17,342.23 243.21,343.67 247.25,344.98 251.29,346.60 255.33,348.11 259.37,349.42 263.41,350.74 267.44,352.15 271.48,353.76 275.52,354.77 279.56,356.19 283.60,357.49 287.64,358.68 291.68,360.09 295.72,361.41 299.76,362.72 303.80,363.72 307.84,364.63 311.88,365.54 315.91,366.45 319.95,367.36 323.99,368.38 328.03,369.71 332.07,371.02 336.11,372.34 340.15,373.64 344.19,374.75 348.23,375.76 352.27,376.78 356.31,378.08 360.35,378.98 364.39,379.86 368.42,380.83 372.46,382.10 376.50,383.58 380.54,385.05 384.58,386.30 388.62,387.20 392.66,388.60 396.70,389.63 400.74,390.65 404.78,391.26 408.82,391.97 412.86,392.68 416.89,393.28 420.93,393.99 424.97,394.70 429.01,395.30 433.05,396.01 437.09,396.92 441.13,397.73 445.17,398.74 449.21,399.65 453.25,400.77 457.29,402.08 461.33,403.20 465.37,404.54 469.40,405.24 473.44,406.26 477.48,407.20 481.52,408.01 485.56,409.21 489.60,410.02 493.64,410.72 497.68,411.33 501.72,412.03 505.76,412.53 509.80,413.04 513.84,413.55 517.87,414.36 521.91,415.28 525.95,415.99 529.99,416.70 534.03,417.30 538.07,417.61 542.11,418.42 546.15,418.92 550.19,419.32 554.23,419.72 558.27,419.99 562.31,420.29 566.35,420.69 570.38,421.10 574.42,421.60 578.46,422.01 582.50,422.72 586.54,423.32 590.58,423.68" fill="none" stroke="#ee3a44" stroke-width="0.9"/>
<g fill="#cf1a26"><circle cx="89.72" cy="307.04" r="1.6"/><circle cx="93.76" cy="307.71" r="1.6"/><circle cx="97.80" cy="308.31" r="1.6"/><circle cx="101.84" cy="308.69" r="1.6"/><circle cx="105.88" cy="309.30" r="1.6"/><circle cx="109.92" cy="309.80" r="1.6"/><circle cx="113.95" cy="310.61" r="1.6"/><circle cx="117.99" cy="311.32" r="1.6"/><circle cx="122.03" cy="311.92" r="1.6"/><circle cx="126.07" cy="312.66" r="1.6"/><circle cx="130.11" cy="313.36" r="1.6"/><circle cx="134.15" cy="314.27" r="1.6"/><circle cx="138.19" cy="314.98" r="1.6"/><circle cx="142.23" cy="315.88" r="1.6"/><circle cx="146.27" cy="316.69" r="1.6"/><circle cx="150.31" cy="317.40" r="1.6"/><circle cx="154.35" cy="318.31" r="1.6"/><circle cx="158.39" cy="319.42" r="1.6"/><circle cx="162.43" cy="320.32" r="1.6"/><circle cx="166.46" cy="321.01" r="1.6"/><circle cx="170.50" cy="322.25" r="1.6"/><circle cx="174.54" cy="323.26" r="1.6"/><circle cx="178.58" cy="324.27" r="1.6"/><circle cx="182.62" cy="325.08" r="1.6"/><circle cx="186.66" cy="325.99" r="1.6"/><circle cx="190.70" cy="327.10" r="1.6"/><circle cx="194.74" cy="328.01" r="1.6"/><circle cx="198.78" cy="329.12" r="1.6"/><circle cx="202.82" cy="330.44" r="1.6"/><circle cx="206.86" cy="331.59" r="1.6"/><circle cx="210.90" cy="332.70" r="1.6"/><circle cx="214.93" cy="334.01" r="1.6"/><circle cx="218.97" cy="335.32" r="1.6"/><circle cx="223.01" cy="336.74" r="1.6"/><circle cx="227.05" cy="338.05" r="1.6"/><circle cx="231.09" cy="339.36" r="1.6"/><circle cx="235.13" cy="340.78" r="1.6"/><circle cx="239.17" cy="342.23" r="1.6"/><circle cx="243.21" cy="343.67" r="1.6"/><circle cx="247.25" cy="344.98" r="1.6"/><circle cx="251.29" cy="346.60" r="1.6"/><circle cx="255.33" cy="348.11" r="1.6"/><circle cx="259.37" cy="349.42" r="1.6"/><circle cx="263.41" cy="350.74" r="1.6"/><circle cx="267.44" cy="352.15" r="1.6"/><circle cx="271.48" cy="353.76" r="1.6"/><circle cx="275.52" cy="354.77" r="1.6"/><circle cx="279.56" cy="356.19" r="1.6"/><circle cx="283.60" cy="357.49" r="1.6"/><circle cx="287.64" cy="358.68" r="1.6"/><circle cx="291.68" cy="360.09" r="1.6"/><circle cx="295.72" cy="361.41" r="1.6"/><circle cx="299.76" cy="362.72" r="1.6"/><circle cx="303.80" cy="363.72" r="1.6"/><circle cx="307.84" cy="364.63" r="1.6"/><circle cx="311.88" cy="365.54" r="1.6"/><circle cx="315.91" cy="366.45" r="1.6"/><circle cx="319.95" cy="367.36" r="1.6"/><circle cx="323.99" cy="368.38" r="1.6"/><circle cx="328.03" cy="369.71" r="1.6"/><circle cx="332.07" cy="371.02" r="1.6"/><circle cx="336.11" cy="372.34" r="1.6"/><circle cx="340.15" cy="373.64" r="1.6"/><circle cx="344.19" cy="374.75" r="1.6"/><circle cx="348.23" cy="375.76" r="1.6"/><circle cx="352.27" cy="376.78" r="1.6"/><circle cx="356.31" cy="378.08" r="1.6"/><circle cx="360.35" cy="378.98" r="1.6"/><circle cx="364.39" cy="379.86" r="1.6"/><circle cx="368.42" cy="380.83" r="1.6"/><circle cx="372.46" cy="382.10" r="1.6"/><circle cx="376.50" cy="383.58" r="1.6"/><circle cx="380.54" cy="385.05" r="1.6"/><circle cx="384.58" cy="386.30" r="1.6"/><circle cx="388.62" cy="387.20" r="1.6"/><circle cx="392.66" cy="388.60" r="1.6"/><circle cx="396.70" cy="389.63" r="1.6"/><circle cx="400.74" cy="390.65" r="1.6"/><circle cx="404.78" cy="391.26" r="1.6"/><circle cx="408.82" cy="391.97" r="1.6"/><circle cx="412.86" cy="392.68" r="1.6"/><circle cx="416.89" cy="393.28" r="1.6"/><circle cx="420.93" cy="393.99" r="1.6"/><circle cx="424.97" cy="394.70" r="1.6"/><circle cx="429.01" cy="395.30" r="1.6"/><circle cx="433.05" cy="396.01" r="1.6"/><circle cx="437.09" cy="396.92" r="1.6"/><circle cx="441.13" cy="397.73" r="1.6"/><circle cx="445.17" cy="398.74" r="1.6"/><circle cx="449.21" cy="399.65" r="1.6"/><circle cx="453.25" cy="400.77" r="1.6"/><circle cx="457.29" cy="402.08" r="1.6"/><circle cx="461.33" cy="403.20" r="1.6"/><circle cx="465.37" cy="404.54" r="1.6"/><circle cx="469.40" cy="405.24" r="1.6"/><circle cx="473.44" cy="406.26" r="1.6"/><circle cx="477.48" cy="407.20" r="1.6"/><circle cx="481.52" cy="408.01" r="1.6"/><circle cx="485.56" cy="409.21" r="1.6"/><circle cx="489.60" cy="410.02" r="1.6"/><circle cx="493.64" cy="410.72" r="1.6"/><circle cx="497.68" cy="411.33" r="1.6"/><circle cx="501.72" cy="412.03" r="1.6"/><circle cx="505.76" cy="412.53" r="1.6"/><circle cx="509.80" cy="413.04" r="1.6"/><circle cx="513.84" cy="413.55" r="1.6"/><circle cx="517.87" cy="414.36" r="1.6"/><circle cx="521.91" cy="415.28" r="1.6"/><circle cx="525.95" cy="415.99" r="1.6"/><circle cx="529.99" cy="416.70" r="1.6"/><circle cx="534.03" cy="417.30" r="1.6"/><circle cx="538.07" cy="417.61" r="1.6"/><circle cx="542.11" cy="418.42" r="1.6"/><circle cx="546.15" cy="418.92" r="1.6"/><circle cx="550.19" cy="419.32" r="1.6"/><circle cx="554.23" cy="419.72" r="1.6"/><circle cx="558.27" cy="419.99" r="1.6"/><circle cx="562.31" cy="420.29" r="1.6"/><circle cx="566.35" cy="420.69" r="1.6"/><circle cx="570.38" cy="421.10" r="1.6"/><circle cx="574.42" cy="421.60" r="1.6"/><circle cx="578.46" cy="422.01" r="1.6"/><circle cx="582.50" cy="422.72" r="1.6"/><circle cx="586.54" cy="423.32" r="1.6"/><circle cx="590.58" cy="423.68" r="1.6"/></g>
<polyline points="89.72,403.58 93.76,377.38 97.80,366.83 101.84,363.53 105.88,359.97 109.92,357.48 113.95,354.57 117.99,352.49 122.03,351.36 126.07,350.08 130.11,349.06 134.15,348.24 138.19,347.90 142.23,348.15 146.27,348.63 150.31,348.94 154.35,349.41 158.39,349.87 162.43,349.81 166.46,350.00 170.50,350.37 174.54,351.27 178.58,351.98 182.62,353.08 186.66,353.99 190.70,354.90 194.74,355.71 198.78,356.72 202.82,357.63 206.86,358.69 210.90,359.48 214.93,360.49 218.97,361.00 223.01,361.80 227.05,362.51 231.09,363.01 235.13,363.52 239.17,364.54 243.21,365.38 247.25,366.29 251.29,367.30 255.33,368.11 259.37,369.01 263.41,369.72 267.44,370.33 271.48,371.34 275.52,372.13 279.56,372.65 283.60,373.78 287.64,374.81 291.68,375.81 295.72,376.79 299.76,377.80 303.80,378.87 307.84,380.06 311.88,381.27 315.91,382.41 319.95,383.38 323.99,384.23 328.03,385.01 332.07,385.76 336.11,386.51 340.15,387.25 344.19,387.98 348.23,388.66 352.27,389.28 356.31,389.83 360.35,390.34 364.39,390.82 368.42,391.32 372.46,391.83 376.50,392.35 380.54,392.85 384.58,393.30 388.62,393.66 392.66,394.26 396.70,394.67 400.74,395.26 404.78,395.96 408.82,396.67 412.86,397.28 416.89,397.99 420.93,398.39 424.97,399.10 429.01,399.60 433.05,400.31 437.09,400.91 441.13,401.31 445.17,401.71 449.21,402.02 453.25,402.31 457.29,402.41 461.33,402.50 465.37,402.81 469.40,403.01 473.44,403.22 477.48,403.70 481.52,404.00 485.56,404.30 489.60,404.51 493.64,404.81 497.68,405.22 501.72,405.52 505.76,406.03 509.80,406.53 513.84,406.83 517.87,407.33 521.91,407.69 525.95,408.29 529.99,408.70 534.03,409.10 538.07,409.30 542.11,409.61 546.15,410.01 550.19,410.42 554.23,410.72 558.27,411.28 562.31,411.99 566.35,412.30 570.38,412.70 574.42,413.10 578.46,413.30 582.50,413.60 586.54,413.71 590.58,413.96" fill="none" stroke="#3c5af0" stroke-width="0.8"/>
<g fill="#1428b8"><circle cx="89.72" cy="403.58" r="1.6"/><circle cx="93.76" cy="377.38" r="1.6"/><circle cx="97.80" cy="366.83" r="1.6"/><circle cx="101.84" cy="363.53" r="1.6"/><circle cx="105.88" cy="359.97" r="1.6"/><circle cx="109.92" cy="357.48" r="1.6"/><circle cx="113.95" cy="354.57" r="1.6"/><circle cx="117.99" cy="352.49" r="1.6"/><circle cx="122.03" cy="351.36" r="1.6"/><circle cx="126.07" cy="350.08" r="1.6"/><circle cx="130.11" cy="349.06" r="1.6"/><circle cx="134.15" cy="348.24" r="1.6"/><circle cx="138.19" cy="347.90" r="1.6"/><circle cx="142.23" cy="348.15" r="1.6"/><circle cx="146.27" cy="348.63" r="1.6"/><circle cx="150.31" cy="348.94" r="1.6"/><circle cx="154.35" cy="349.41" r="1.6"/><circle cx="158.39" cy="349.87" r="1.6"/><circle cx="162.43" cy="349.81" r="1.6"/><circle cx="166.46" cy="350.00" r="1.6"/><circle cx="170.50" cy="350.37" r="1.6"/><circle cx="174.54" cy="351.27" r="1.6"/><circle cx="178.58" cy="351.98" r="1.6"/><circle cx="182.62" cy="353.08" r="1.6"/><circle cx="186.66" cy="353.99" r="1.6"/><circle cx="190.70" cy="354.90" r="1.6"/><circle cx="194.74" cy="355.71" r="1.6"/><circle cx="198.78" cy="356.72" r="1.6"/><circle cx="202.82" cy="357.63" r="1.6"/><circle cx="206.86" cy="358.69" r="1.6"/><circle cx="210.90" cy="359.48" r="1.6"/><circle cx="214.93" cy="360.49" r="1.6"/><circle cx="218.97" cy="361.00" r="1.6"/><circle cx="223.01" cy="361.80" r="1.6"/><circle cx="227.05" cy="362.51" r="1.6"/><circle cx="231.09" cy="363.01" r="1.6"/><circle cx="235.13" cy="363.52" r="1.6"/><circle cx="239.17" cy="364.54" r="1.6"/><circle cx="243.21" cy="365.38" r="1.6"/><circle cx="247.25" cy="366.29" r="1.6"/><circle cx="251.29" cy="367.30" r="1.6"/><circle cx="255.33" cy="368.11" r="1.6"/><circle cx="259.37" cy="369.01" r="1.6"/><circle cx="263.41" cy="369.72" r="1.6"/><circle cx="267.44" cy="370.33" r="1.6"/><circle cx="271.48" cy="371.34" r="1.6"/><circle cx="275.52" cy="372.13" r="1.6"/><circle cx="279.56" cy="372.65" r="1.6"/><circle cx="283.60" cy="373.78" r="1.6"/><circle cx="287.64" cy="374.81" r="1.6"/><circle cx="291.68" cy="375.81" r="1.6"/><circle cx="295.72" cy="376.79" r="1.6"/><circle cx="299.76" cy="377.80" r="1.6"/><circle cx="303.80" cy="378.87" r="1.6"/><circle cx="307.84" cy="380.06" r="1.6"/><circle cx="311.88" cy="381.27" r="1.6"/><circle cx="315.91" cy="382.41" r="1.6"/><circle cx="319.95" cy="383.38" r="1.6"/><circle cx="323.99" cy="384.23" r="1.6"/><circle cx="328.03" cy="385.01" r="1.6"/><circle cx="332.07" cy="385.76" r="1.6"/><circle cx="336.11" cy="386.51" r="1.6"/><circle cx="340.15" cy="387.25" r="1.6"/><circle cx="344.19" cy="387.98" r="1.6"/><circle cx="348.23" cy="388.66" r="1.6"/><circle cx="352.27" cy="389.28" r="1.6"/><circle cx="356.31" cy="389.83" r="1.6"/><circle cx="360.35" cy="390.34" r="1.6"/><circle cx="364.39" cy="390.82" r="1.6"/><circle cx="368.42" cy="391.32" r="1.6"/><circle cx="372.46" cy="391.83" r="1.6"/><circle cx="376.50" cy="392.35" r="1.6"/><circle cx="380.54" cy="392.85" r="1.6"/><circle cx="384.58" cy="393.30" r="1.6"/><circle cx="388.62" cy="393.66" r="1.6"/><circle cx="392.66" cy="394.26" r="1.6"/><circle cx="396.70" cy="394.67" r="1.6"/><circle cx="400.74" cy="395.26" r="1.6"/><circle cx="404.78" cy="395.96" r="1.6"/><circle cx="408.82" cy="396.67" r="1.6"/><circle cx="412.86" cy="397.28" r="1.6"/><circle cx="416.89" cy="397.99" r="1.6"/><circle cx="420.93" cy="398.39" r="1.6"/><circle cx="424.97" cy="399.10" r="1.6"/><circle cx="429.01" cy="399.60" r="1.6"/><circle cx="433.05" cy="400.31" r="1.6"/><circle cx="437.09" cy="400.91" r="1.6"/><circle cx="441.13" cy="401.31" r="1.6"/><circle cx="445.17" cy="401.71" r="1.6"/><circle cx="449.21" cy="402.02" r="1.6"/><circle cx="453.25" cy="402.31" r="1.6"/><circle cx="457.29" cy="402.41" r="1.6"/><circle cx="461.33" cy="402.50" r="1.6"/><circle cx="465.37" cy="402.81" r="1.6"/><circle cx="469.40" cy="403.01" r="1.6"/><circle cx="473.44" cy="403.22" r="1.6"/><circle cx="477.48" cy="403.70" r="1.6"/><circle cx="481.52" cy="404.00" r="1.6"/><circle cx="485.56" cy="404.30" r="1.6"/><circle cx="489.60" cy="404.51" r="1.6"/><circle cx="493.64" cy="404.81" r="1.6"/><circle cx="497.68" cy="405.22" r="1.6"/><circle cx="501.72" cy="405.52" r="1.6"/><circle cx="505.76" cy="406.03" r="1.6"/><circle cx="509.80" cy="406.53" r="1.6"/><circle cx="513.84" cy="406.83" r="1.6"/><circle cx="517.87" cy="407.33" r="1.6"/><circle cx="521.91" cy="407.69" r="1.6"/><circle cx="525.95" cy="408.29" r="1.6"/><circle cx="529.99" cy="408.70" r="1.6"/><circle cx="534.03" cy="409.10" r="1.6"/><circle cx="538.07" cy="409.30" r="1.6"/><circle cx="542.11" cy="409.61" r="1.6"/><circle cx="546.15" cy="410.01" r="1.6"/><circle cx="550.19" cy="410.42" r="1.6"/><circle cx="554.23" cy="410.72" r="1.6"/><circle cx="558.27" cy="411.28" r="1.6"/><circle cx="562.31" cy="411.99" r="1.6"/><circle cx="566.35" cy="412.30" r="1.6"/><circle cx="570.38" cy="412.70" r="1.6"/><circle cx="574.42" cy="413.10" r="1.6"/><circle cx="578.46" cy="413.30" r="1.6"/><circle cx="582.50" cy="413.60" r="1.6"/><circle cx="586.54" cy="413.71" r="1.6"/><circle cx="590.58" cy="413.96" r="1.6"/></g>
<line x1="471.3" y1="142" x2="471.3" y2="270" stroke="#111" stroke-width="1.05" stroke-dasharray="3.5 3.8"/>
</svg></body></html>
